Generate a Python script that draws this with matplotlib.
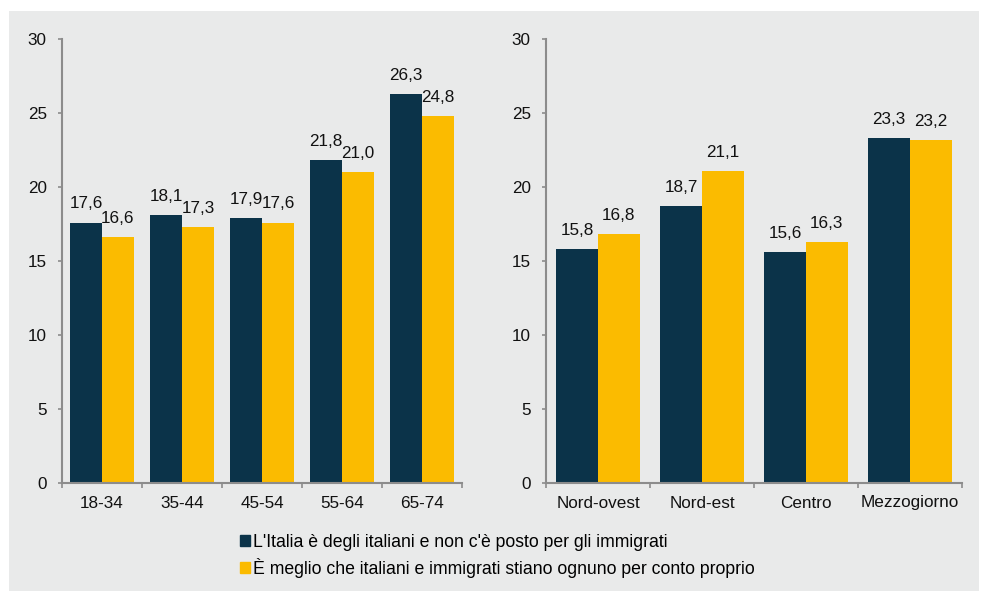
import matplotlib
matplotlib.use("Agg")
import matplotlib.pyplot as plt
from matplotlib.patches import Rectangle
import numpy as np

plt.rcParams['font.family'] = ['Liberation Sans', 'DejaVu Sans']

age_groups = ["18-34", "35-44", "45-54", "55-64", "65-74"]
age_s1 = [17.6, 18.1, 17.9, 21.8, 26.3]
age_s2 = [16.6, 17.3, 17.6, 21.0, 24.8]

areas = ["Nord-ovest", "Nord-est", "Centro", "Mezzogiorno"]
area_s1 = [15.8, 18.7, 15.6, 23.3]
area_s2 = [16.8, 21.1, 16.3, 23.2]

series_names = ["L'Italia è degli italiani e non c'è posto per gli immigrati",
                "È meglio che italiani e immigrati stiano ognuno per conto proprio"]
yticks = [0, 5, 10, 15, 20, 25, 30]

C1 = "#0b3349"
C2 = "#fbbb00"
GREY = "#8c8c8c"
BG = "#e9eaea"
TXT = "#111111"
FS = 12.3

W, H = 981, 593
fig = plt.figure(figsize=(W / 100, H / 100), dpi=100)
fig.patches.append(Rectangle((9 / W, 1 - 591 / H), 970 / W, 580 / H,
                             transform=fig.transFigure, facecolor=BG,
                             edgecolor='none', zorder=-10))

def fmt(v):
    return f"{v:.1f}".replace(".", ",")

def panel(rect, cats, s1, s2):
    ax = fig.add_axes(rect)
    ax.set_facecolor('none')
    x = np.arange(len(cats))
    w = 0.4
    b1 = ax.bar(x - w / 2, s1, w, color=C1)
    b2 = ax.bar(x + w / 2, s2, w, color=C2)
    for bars, vals in ((b1, s1), (b2, s2)):
        for b, v in zip(bars, vals):
            ax.annotate(fmt(v), (b.get_x() + b.get_width() / 2, v),
                        xytext=(0, 8), textcoords='offset points',
                        ha='center', va='bottom', fontsize=FS, color=TXT)
    ax.set_xlim(-0.5, len(cats) - 0.5)
    ax.set_ylim(0, 30)
    ax.set_yticks(yticks)
    ax.tick_params(axis='y', length=3, width=1.2, color=GREY, labelsize=FS,
                   pad=8, labelcolor=TXT)
    ax.set_xticks(np.arange(len(cats) + 1) - 0.5)
    ax.set_xticklabels([])
    ax.set_xticks(x, minor=True)
    ax.set_xticklabels(cats, minor=True)
    ax.tick_params(axis='x', which='major', length=3.5, width=1.2, color=GREY)
    ax.tick_params(axis='x', which='minor', length=0, labelsize=FS, pad=9,
                   labelcolor=TXT)
    for s in ('top', 'right'):
        ax.spines[s].set_visible(False)
    for s in ('left', 'bottom'):
        ax.spines[s].set_color(GREY)
        ax.spines[s].set_linewidth(1.5)
    return ax

bottom = 1 - 483 / H
top = 1 - 39 / H
panel([62 / W, bottom, 400 / W, top - bottom], age_groups, age_s1, age_s2)
panel([546 / W, bottom, 416 / W, top - bottom], areas, area_s1, area_s2)

handles = [Rectangle((0, 0), 1, 1, color=C1), Rectangle((0, 0), 1, 1, color=C2)]
fig.legend(handles, series_names, loc='upper left',
           bbox_to_anchor=(240 / W, 1 - 534 / H), frameon=False, fontsize=12.7,
           handlelength=0.56, handleheight=0.56, handletextpad=0.2,
           labelspacing=0.4, borderaxespad=0, borderpad=0)

fig.savefig("out.png", dpi=100)
